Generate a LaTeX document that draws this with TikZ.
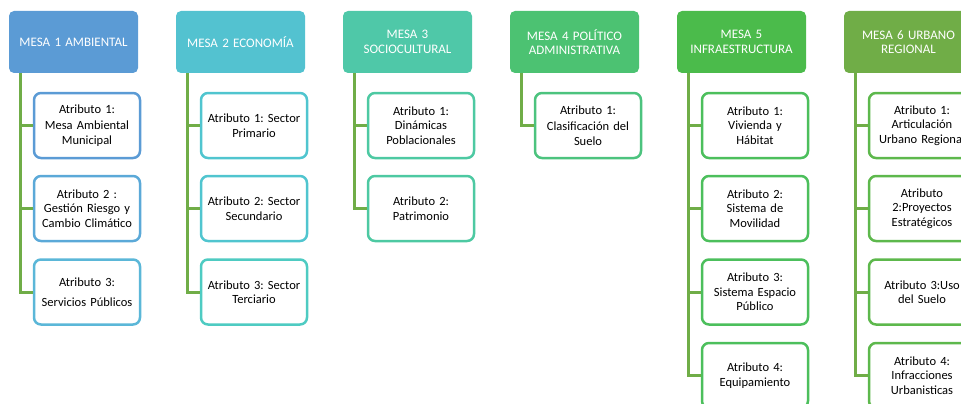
\documentclass[tikz,border=0pt]{standalone}
\usepackage{fontspec}
\setmainfont{Carlito}
\usetikzlibrary{calc}
\definecolor{h1}{HTML}{5B9BD5}
\definecolor{h2}{HTML}{53C2D0}
\definecolor{h3}{HTML}{4FC8A8}
\definecolor{h4}{HTML}{4CC272}
\definecolor{h5}{HTML}{4BBB4B}
\definecolor{h6}{HTML}{70AD47}
\definecolor{b12}{HTML}{5BA9D8}
\definecolor{b13}{HTML}{5BB7D8}
\definecolor{b2}{HTML}{50C5CF}
\definecolor{b23}{HTML}{4ECBC2}
\definecolor{b3}{HTML}{4DC9A2}
\definecolor{b4}{HTML}{4CC37E}
\definecolor{b5}{HTML}{4CBF5C}
\definecolor{b6}{HTML}{5DB84C}
\definecolor{conn}{HTML}{70AD47}
\tikzset{
  head/.style={fill=#1, draw=none, rounded corners=5pt, minimum width=129pt, minimum height=62pt,
    text width=125pt, align=center, text=white, inner sep=0pt,
    font=\fontsize{13}{14.5}\selectfont},
  child/.style={draw=#1, line width=2.5pt, fill=white, rounded corners=7pt, minimum width=106pt,
    minimum height=65pt, text width=104pt, align=center, inner sep=0pt,
    font=\fontsize{12.5}{14.5}\selectfont},
  connline/.style={draw=conn, line width=3pt},
}
\begin{document}
\frenchspacing
\begin{tikzpicture}[x=1pt,y=-1pt]
\useasboundingbox (0,0) rectangle (961,404);
\clip (0,0) rectangle (961,404);
% headers
\node[head=h1] (m1) at (73.5,42) {MESA 1 AMBIENTAL};
\node[head=h2] (m2) at (240.5,42) {MESA 2 ECONOMÍA};
\node[head=h3] (m3) at (407.5,42) {MESA 3\\SOCIOCULTURAL};
\node[head=h4] (m4) at (574.5,42) {MESA 4 POLÍTICO\\ADMINISTRATIVA};
\node[head=h5] (m5) at (741.5,42) {MESA 5\\INFRAESTRUCTURA};
\node[head=h6] (m6) at (908.5,42) {MESA 6 URBANO\\REGIONAL};
% vertical coordinates
\foreach \i in {1,...,6} {\coordinate (v\i) at ($(m\i.south west)+(12,0)$);}
% children
\node[child=h1] (c11) at (87,125.5) {Atributo 1:\\[2pt]Mesa Ambiental\\Municipal};
\node[child=b12] (c12) at (87,208.5) {Atributo 2 :\\Gestión Riesgo y\\Cambio Climático};
\node[child=b13] (c13) at (87,292) {Atributo 3:\\[5pt]Servicios Públicos};
\node[child=b2] (c21) at (254,125.5) {Atributo 1: Sector\\Primario};
\node[child=b2] (c22) at (254,208.5) {Atributo 2: Sector\\Secundario};
\node[child=b23] (c23) at (254,292) {Atributo 3: Sector\\Terciario};
\node[child=b3] (c31) at (421,125.5) {Atributo 1:\\Dinámicas\\Poblacionales};
\node[child=b3] (c32) at (421,208.5) {Atributo 2:\\Patrimonio};
\node[child=b4] (c41) at (588,125.5) {Atributo 1:\\[2pt]Clasificación del\\Suelo};
\node[child=b5] (c51) at (755,125.5) {Atributo 1:\\Vivienda y\\Hábitat};
\node[child=b5] (c52) at (755,208.5) {Atributo 2:\\Sistema de\\Movilidad};
\node[child=b5] (c53) at (755,292) {Atributo 3:\\Sistema Espacio\\Público};
\node[child=b5] (c54) at (755,375.5) {Atributo 4:\\Equipamiento};
\node[child=b6] (c61) at (922,125.5) {Atributo 1:\\Articulación\\Urbano Regional};
\node[child=b6] (c62) at (922,208.5) {Atributo\\2:Proyectos\\Estratégicos};
\node[child=b6] (c63) at (922,292) {Atributo 3:Uso\\del Suelo};
\node[child=b6] (c64) at (922,375.5) {Atributo 4:\\Infracciones\\Urbanisticas};
% connectors
\draw[connline] (v1) |- (c13.west);
\draw[connline] (c11.west -| v1) -- (c11.west);
\draw[connline] (c12.west -| v1) -- (c12.west);
\draw[connline] (v2) |- (c23.west);
\draw[connline] (c21.west -| v2) -- (c21.west);
\draw[connline] (c22.west -| v2) -- (c22.west);
\draw[connline] (v3) |- (c32.west);
\draw[connline] (c31.west -| v3) -- (c31.west);
\draw[connline] (v4) |- (c41.west);
\draw[connline] (v5) |- (c54.west);
\draw[connline] (c51.west -| v5) -- (c51.west);
\draw[connline] (c52.west -| v5) -- (c52.west);
\draw[connline] (c53.west -| v5) -- (c53.west);
\draw[connline] (v6) |- (c64.west);
\draw[connline] (c61.west -| v6) -- (c61.west);
\draw[connline] (c62.west -| v6) -- (c62.west);
\draw[connline] (c63.west -| v6) -- (c63.west);
\end{tikzpicture}
\end{document}
